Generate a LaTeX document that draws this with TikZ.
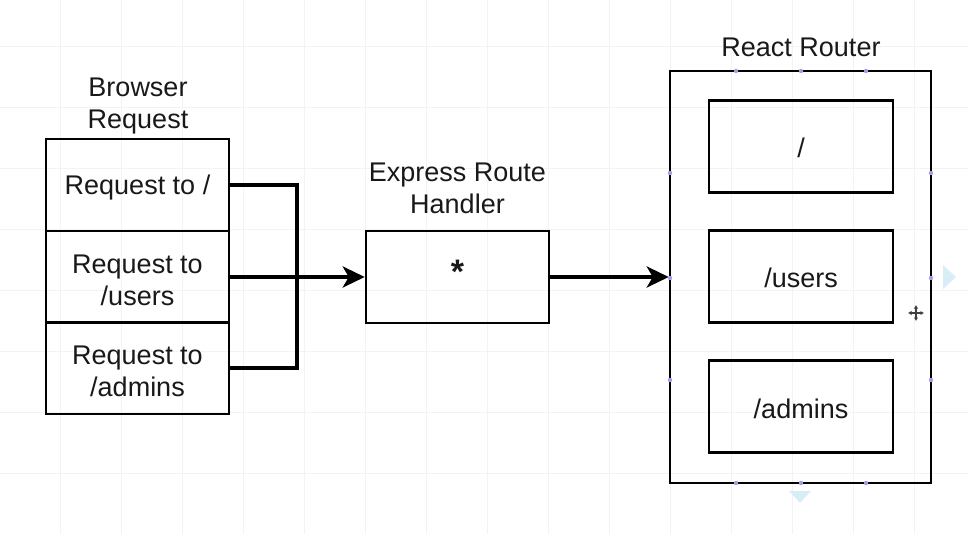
\documentclass[tikz,border=0pt]{standalone}
\usepackage{fontspec}
\setmainfont{Liberation Sans}
\usetikzlibrary{arrows.meta}
\definecolor{gridline}{RGB}{243,243,243}
\definecolor{handle}{RGB}{165,155,230}
\definecolor{hint}{RGB}{215,238,246}
\begin{document}
\begin{tikzpicture}[x=1pt,y=-1pt,
  every node/.style={font=\fontsize{27}{32}\selectfont, align=center, text=black!90},
  box/.style={draw, line width=2.5pt, rectangle, minimum width=183pt, minimum height=92pt, inner sep=0pt},
  lbl/.style={inner sep=0pt},
  title/.style={inner sep=0pt},
  conn/.style={line width=3.6pt},
  tip/.style={-{Stealth[length=22pt, width=21pt, inset=6pt]}},
  handledot/.style={fill=handle}]

% canvas and background grid
\fill[white] (0,0) rectangle (968,534);
\useasboundingbox (0,0) rectangle (968,534);
\foreach \gx in {60,121,...,960} \draw[gridline, line width=0.8pt] (\gx,0) -- (\gx,534);
\foreach \gy in {46,107,...,534} \draw[gridline, line width=0.8pt] (0,\gy) -- (968,\gy);

% browser requests
\node[title] (brt) at (138,106) {Browser\\Request};
\node[box] (req1) at (137.5,185) {};
\node[box] (req2) at (137.5,277) {};
\node[box] (req3) at (137.5,368) {};
\node[lbl] (req1t) at ([yshift=-3pt]req1.center) {Request to /};
\node[lbl] (req2t) at ([yshift=-3pt]req2.center) {Request to\\/users};
\node[lbl] (req3t) at ([yshift=-3pt]req3.center) {Request to\\/admins};

% express handler
\node[title] (ext) at (457.5,188) {Express Route\\Handler};
\node[box] (exp) at (457.5,277) {};
\node[lbl, font=\bfseries\fontsize{34}{34}\selectfont] (expt) at ([yshift=5pt]exp.center) {*};

% react router container
\node[title] (rrt) at (801,47) {React Router};
\node[box, minimum width=261pt, minimum height=412pt] (rr) at (800.5,277) {};
\node[box, minimum width=184pt] (r1) at (801,146.5) {};
\node[box, minimum width=184pt] (r2) at (801,276.5) {};
\node[box, minimum width=184pt] (r3) at (801,406.5) {};
\node[lbl] (r1t) at ([yshift=-1.5pt]r1.center) {/};
\node[lbl] (r2t) at ([yshift=-1pt]r2.center) {/users};
\node[lbl] (r3t) at ([yshift=-2pt]r3.center) {/admins};

% connectors
\coordinate (jn) at (297,277);
\draw[conn, line join=miter] (req1.east) -| (jn) |- (req3.east);
\draw[conn, tip] (req2.east) -- (exp.west);
\draw[conn, tip] (exp.east) -- (rr.west);

% selection handles on the container
\foreach \hx in {736,801,866} {
  \fill[handledot] (\hx,71) circle (2.2pt);
  \fill[handledot] (\hx,483) circle (2.2pt);
}
\foreach \hy in {173,278,380} {
  \fill[handledot] (670,\hy) circle (2.2pt);
  \fill[handledot] (931,\hy) circle (2.2pt);
}

% quick-connect hints
\fill[hint] (943,265) -- (956,277) -- (943,289) -- cycle;
\fill[hint] (789,491) -- (811,491) -- (800,503) -- cycle;

% move cursor
\draw[line width=1.4pt, black!75, {Latex[length=3.5pt,width=4.5pt]}-{Latex[length=3.5pt,width=4.5pt]}] (908,313) -- (924,313);
\draw[line width=1.4pt, black!75, {Latex[length=3.5pt,width=4.5pt]}-{Latex[length=3.5pt,width=4.5pt]}] (916,305) -- (916,321);
\end{tikzpicture}
\end{document}
